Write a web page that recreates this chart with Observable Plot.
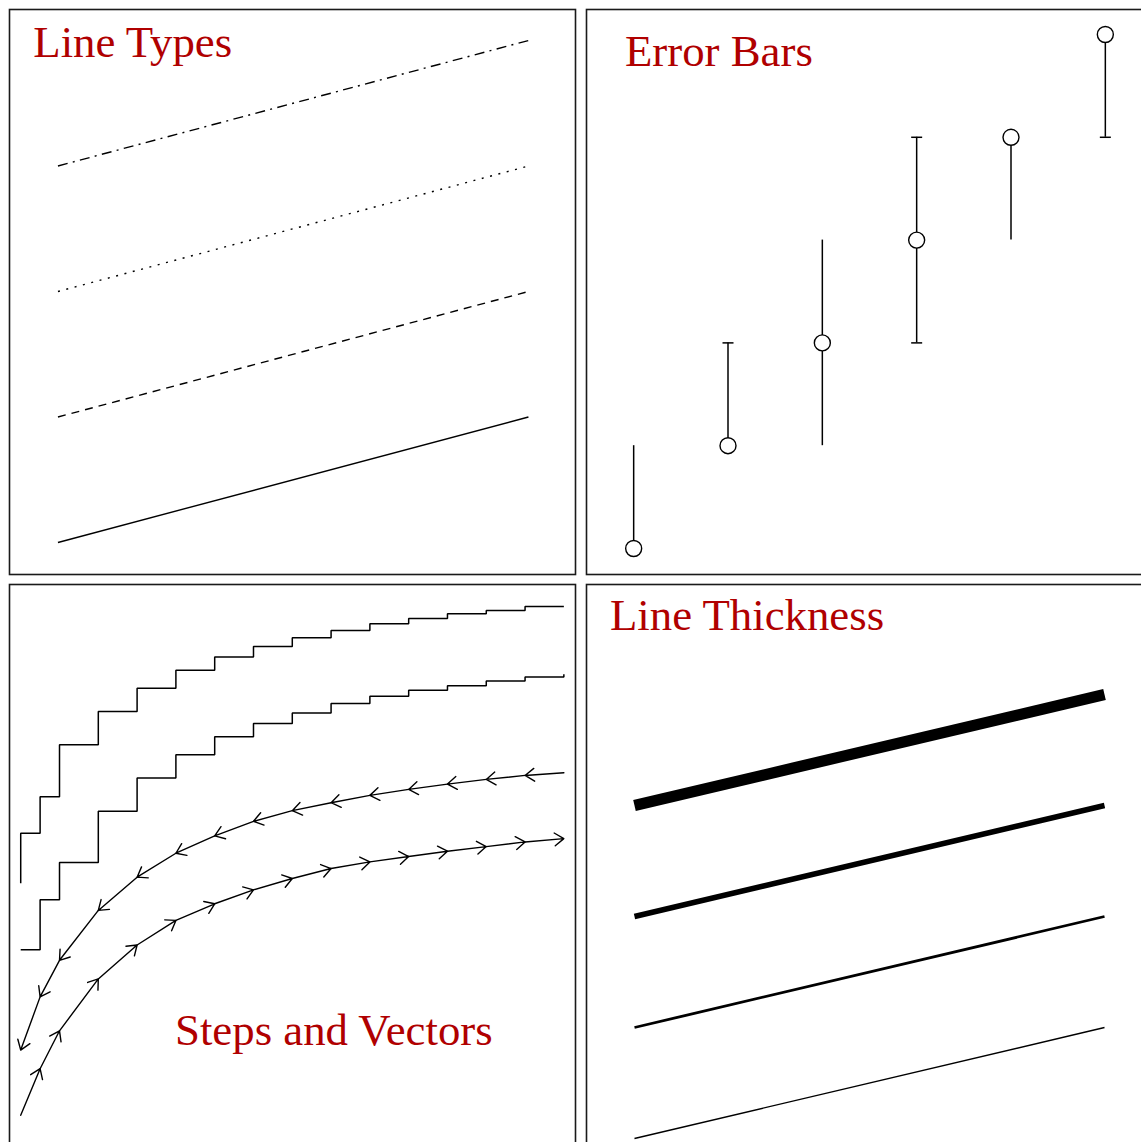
<!DOCTYPE html>
<html>
<head>
<meta charset="utf-8">
<script src="https://cdn.jsdelivr.net/npm/d3@7"></script>
<script src="https://cdn.jsdelivr.net/npm/@observablehq/plot@0.6"></script>
<style>
  html, body { margin: 0; padding: 0; background: #fff; }
  #page { position: relative; width: 1141px; height: 1142px; overflow: hidden; background: #fff; }
  .panel { position: absolute; }
  .panel svg { max-width: none !important; display: block; }
</style>
</head>
<body>
<div id="page"></div>
<script>
// ---------- Data ----------
// Panel titles
const titles = ["Line Types", "Error Bars", "Steps and Vectors", "Line Thickness"];

// Line Types: four straight lines
const ltX = [0, 10];
const ltStart = [0, 1, 2, 3];
const ltEnd = [1, 2, 3, 4];

// Error Bars
const ebX = [1, 2, 3, 4, 5, 6];
const ebY = [1, 2, 3, 4, 5, 6];
const ebLow = [1, 2, 2, 3, 4, 5];
const ebHigh = [2, 3, 4, 5, 5, 6];
const ebCapLow = [false, false, false, true, false, true];
const ebCapHigh = [false, true, false, true, false, false];

// Steps and Vectors
const svT = [0, 0.5, 1, 2, 3, 4, 5, 6, 7, 8, 9, 10, 11, 12, 13, 14];
const stepBeforeY = [4.02, 4.77, 5.32, 6.10, 6.60, 6.95, 7.22, 7.42, 7.58, 7.71, 7.82, 7.92, 8.00, 8.07, 8.12, 8.18];
const stepAfterY  = [3.02, 3.77, 4.33, 5.10, 5.60, 5.95, 6.22, 6.42, 6.58, 6.72, 6.83, 6.92, 6.99, 7.06, 7.12, 7.16];
const vecBackY    = [1.51, 2.31, 2.86, 3.61, 4.11, 4.47, 4.73, 4.95, 5.11, 5.23, 5.34, 5.43, 5.51, 5.58, 5.64, 5.68];
const vecFwdY     = [0.53, 1.23, 1.80, 2.58, 3.09, 3.46, 3.71, 3.92, 4.09, 4.24, 4.34, 4.42, 4.50, 4.57, 4.64, 4.69];

// Line Thickness: four straight lines
const thX = [0, 10];
const thStart = [0, 1, 2, 3];
const thEnd = [1, 2, 3, 4];

// ---------- Helpers ----------
const RED = "#b00000";
const FONT = "Liberation Serif, Times New Roman, serif";
const lineRows = (xs, s, e) => s.flatMap((v, i) => [{x: xs[0], y: v, k: i}, {x: xs[1], y: e[i], k: i}]);
const frame = () => Plot.frame({stroke: "#1a1a1a", strokeWidth: 1.6});
const title = (t, dx, dy) => Plot.text([t], {
  text: d => d, frameAnchor: "top-left", textAnchor: "start", lineAnchor: "bottom",
  dx, dy, fontFamily: FONT, fontSize: 44.8, fill: RED
});
function place(svg, left, top) {
  const d = document.createElement("div");
  d.className = "panel";
  d.style.left = left + "px";
  d.style.top = top + "px";
  d.appendChild(svg);
  document.getElementById("page").appendChild(d);
}
const base = (w, h, xd, yd) => ({
  width: w, height: h, margin: 1,
  x: {domain: xd, axis: null},
  y: {domain: yd, axis: null},
  style: {background: "transparent", overflow: "visible"}
});

// ---------- Panel 1: Line Types ----------
const ltRows = lineRows(ltX, ltStart, ltEnd);
const ltStyles = [null, "8,6", "2,6.6", "10,5.3,2,5.4"];
place(Plot.plot({
  ...base(568, 567, [-1.03, 11.0], [-0.255, 4.247]),
  marks: [
    frame(),
    ...ltStyles.map((dash, k) => Plot.line(ltRows.filter(d => d.k === k), {
      x: "x", y: "y", stroke: "black", strokeWidth: 1.4, strokeLinecap: "butt",
      ...(dash ? {strokeDasharray: dash} : {})
    })),
    title(titles[0], 23.8, 47.7)
  ]
}), 8, 8);

// ---------- Panel 2: Error Bars ----------
const ebRows = ebX.map((x, i) => ({x, y: ebY[i], lo: ebLow[i], hi: ebHigh[i]}));
const ebCaps = ebX.flatMap((x, i) => [
  ...(ebCapLow[i] ? [{x, y: ebLow[i]}] : []),
  ...(ebCapHigh[i] ? [{x, y: ebHigh[i]}] : [])
]);
const capSymbol = {draw(ctx, size) { const r = Math.sqrt(size / Math.PI); ctx.moveTo(-r, 0); ctx.lineTo(r, 0); }};
place(Plot.plot({
  ...base(568, 567, [0.5, 6.5], [0.747, 6.243]),
  marks: [
    frame(),
    Plot.ruleX(ebRows, {x: "x", y1: "lo", y2: "hi", stroke: "black", strokeWidth: 1.5}),
    Plot.dot(ebCaps, {x: "x", y: "y", r: 5.5, symbol: capSymbol, fill: "none", stroke: "black", strokeWidth: 1.5}),
    Plot.dot(ebRows, {x: "x", y: "y", r: 8, fill: "white", stroke: "black", strokeWidth: 1.4}),
    title(titles[1], 38.5, 56.7)
  ]
}), 585, 8);

// ---------- Panel 3: Steps and Vectors ----------
const stepBefore = svT.map((t, i) => ({x: t, y: stepBeforeY[i]}));
const stepAfter = svT.map((t, i) => ({x: t, y: stepAfterY[i]}));
const vecBack = svT.slice(1).map((t, i) => ({x1: t, y1: vecBackY[i + 1], x2: svT[i], y2: vecBackY[i]}));
const vecFwd = svT.slice(1).map((t, i) => ({x1: svT[i], y1: vecFwdY[i], x2: t, y2: vecFwdY[i + 1]}));
place(Plot.plot({
  ...base(568, 568, [-0.289, 14.30], [0, 8.511]),
  marks: [
    frame(),
    Plot.line(stepBefore, {x: "x", y: "y", curve: "step-before", stroke: "black", strokeWidth: 1.5, strokeLinejoin: "miter", strokeLinecap: "butt"}),
    Plot.line(stepAfter, {x: "x", y: "y", curve: "step-after", stroke: "black", strokeWidth: 1.5, strokeLinejoin: "miter", strokeLinecap: "butt"}),
    Plot.arrow(vecBack, {x1: "x1", y1: "y1", x2: "x2", y2: "y2", headLength: 12, headAngle: 70, stroke: "black", strokeWidth: 1.4}),
    Plot.arrow(vecFwd, {x1: "x1", y1: "y1", x2: "x2", y2: "y2", headLength: 12, headAngle: 70, stroke: "black", strokeWidth: 1.4}),
    title(titles[2], 165.5, 460)
  ]
}), 8, 583);

// ---------- Panel 4: Line Thickness ----------
const thRows = lineRows(thX, thStart, thEnd);
const thWidths = [1.4, 2.8, 5.6, 11.2];
place(Plot.plot({
  ...base(568, 568, [-1.021, 11.021], [-0.108, 4.991]),
  marks: [
    frame(),
    ...thWidths.map((w, k) => Plot.line(thRows.filter(d => d.k === k), {
      x: "x", y: "y", stroke: "black", strokeWidth: w, strokeLinecap: "butt"
    })),
    title(titles[3], 23.5, 45.5)
  ]
}), 585, 583);
</script>
</body>
</html>
